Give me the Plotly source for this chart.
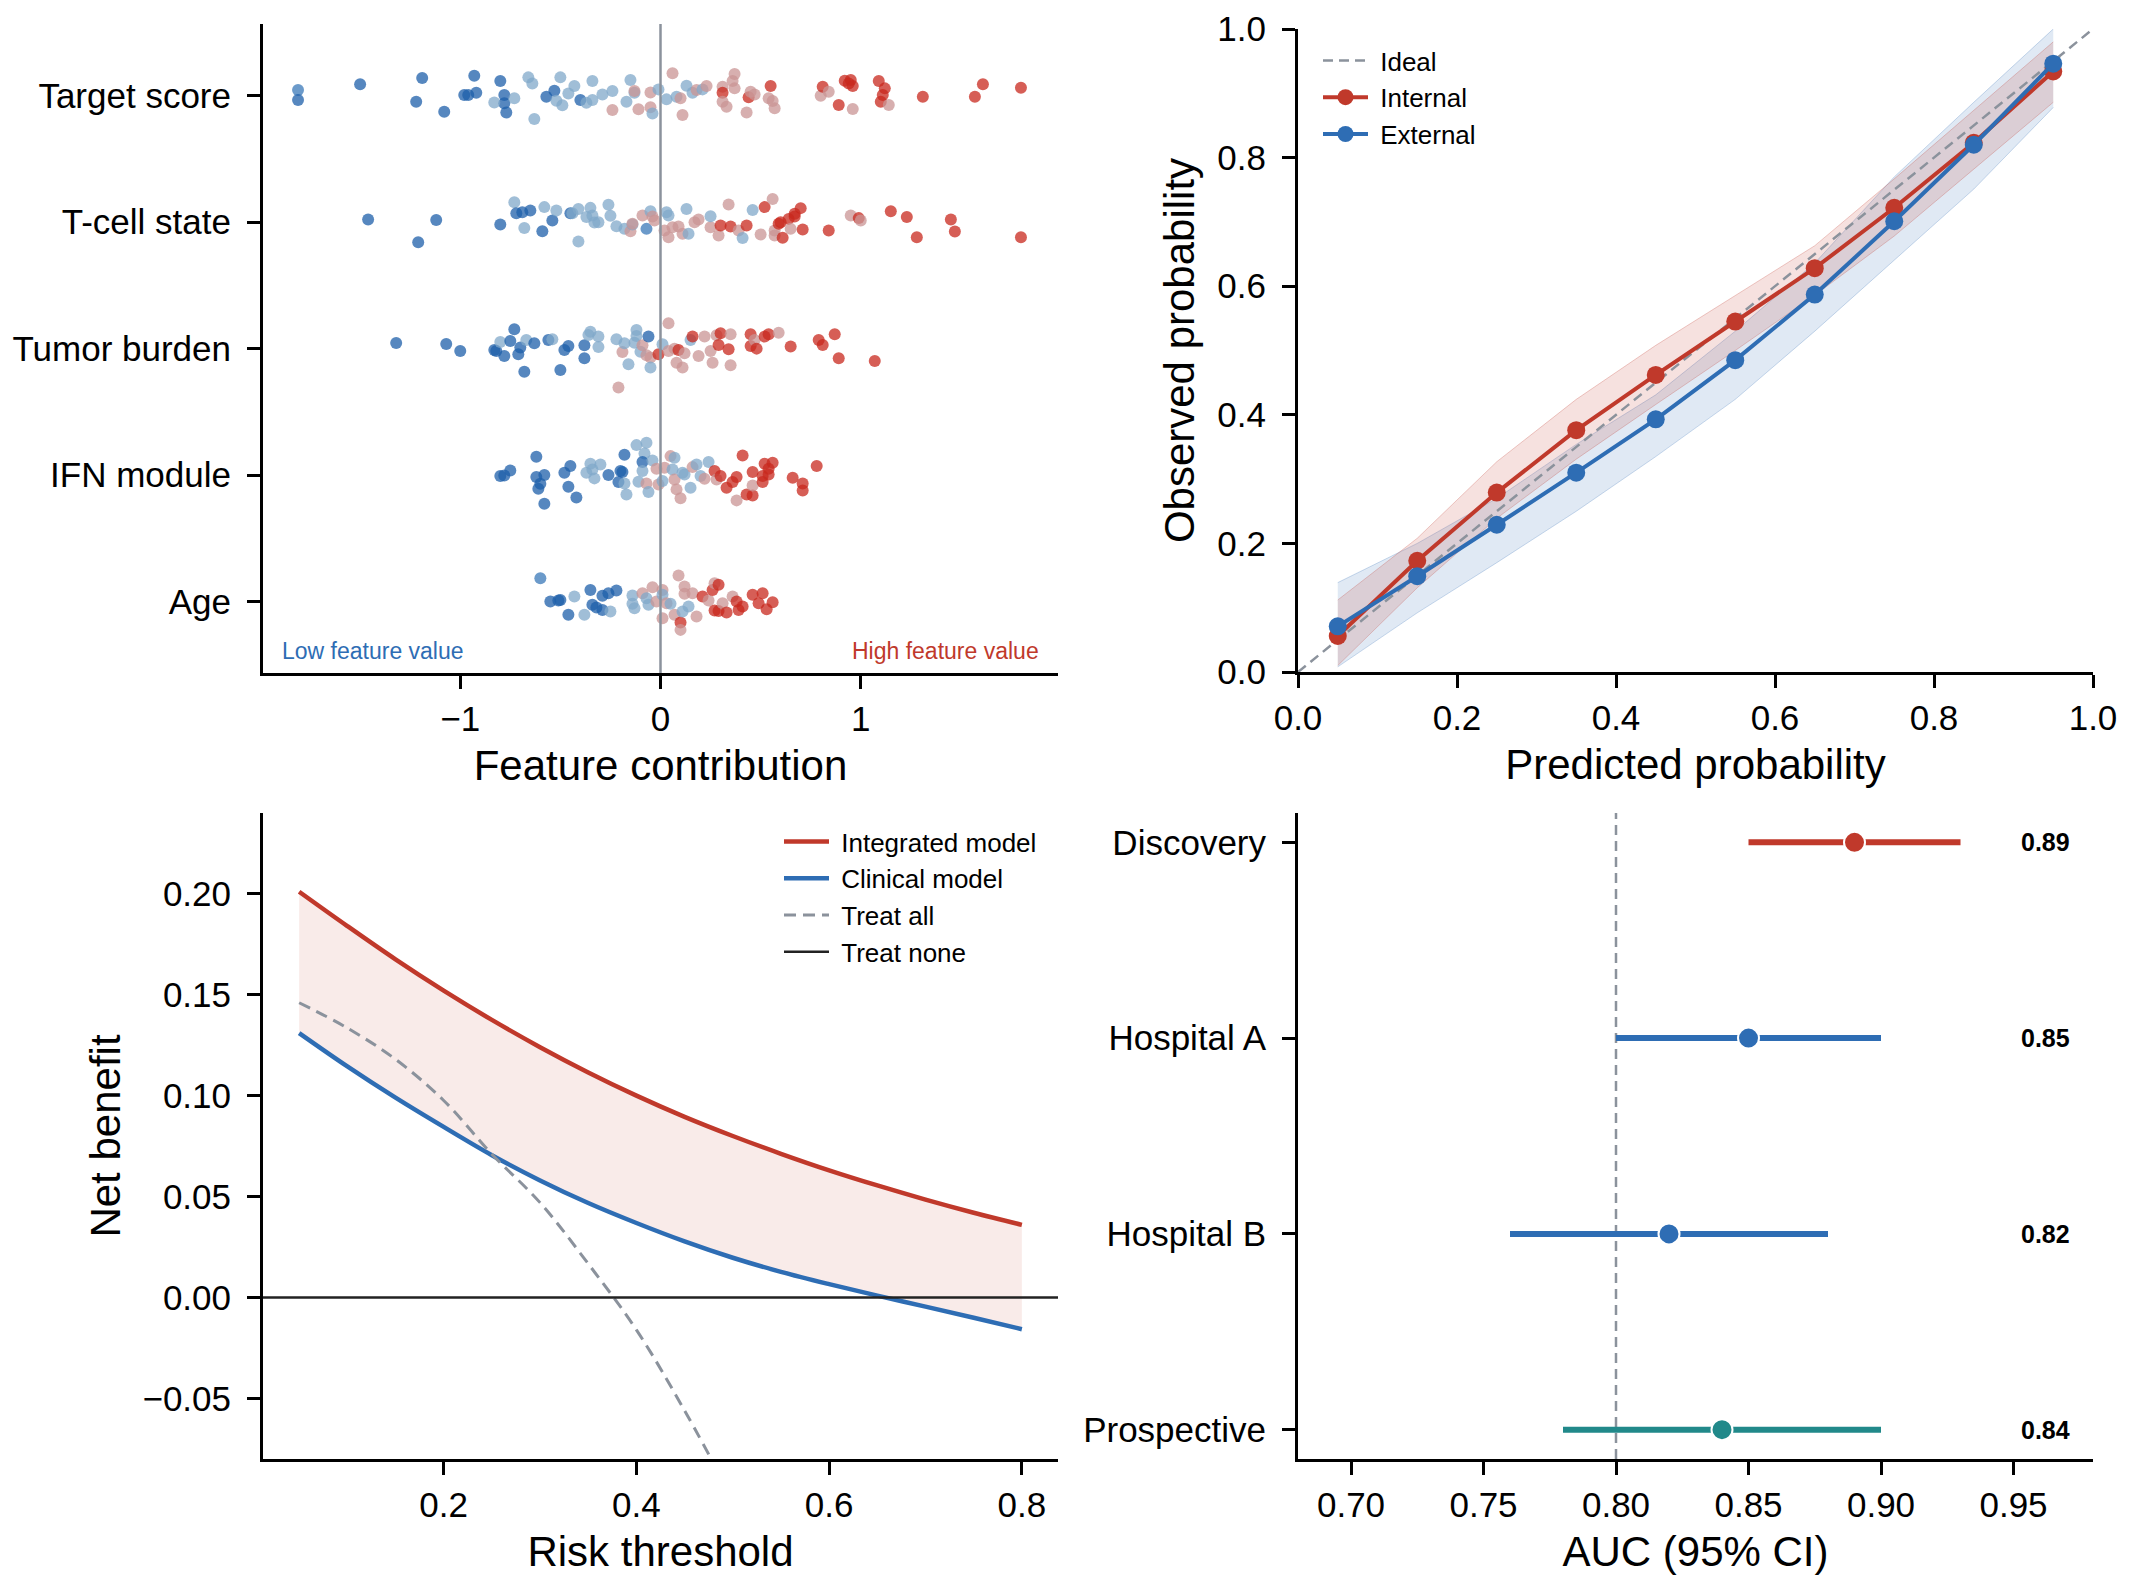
import plotly.graph_objects as go

FONT = "Liberation Sans, Arial, sans-serif"
RED = "#c0392b"
BLUE = "#2e6db4"
TEAL = "#21898a"
GREY = "#8b929c"
W, H = 2130, 1590
FW, FH = W - 16, H - 16  # page body keeps an 8 px margin
NB = "\u00a0"


def px(v):
    return (v - 8) / FW


def py(v):
    return 1 - (v - 8) / FH


# ---- panel A: feature contributions (top to bottom) ----
features = ["Target score", "T-cell state", "Tumor burden", "IFN module", "Age"]

target_x = [-1.81, -1.81, -1.50, -1.19, -1.22, -1.08, -0.93, -0.98, -0.96, -0.92, -0.80, -0.78, -0.78, -0.77,
            -0.83, -0.73, -0.66, -0.64, -0.63, -0.57, -0.53, -0.52, -0.50, -0.49, -0.46, -0.43, -0.40, -0.37,
            -0.34, -0.34, -0.29, -0.24, -0.24, -0.17, -0.15, -0.13, -0.13, -0.11, -0.05, -0.05, -0.04, -0.01,
            0.03, 0.06, 0.08, 0.10, 0.11, 0.13, 0.16, 0.18, 0.21, 0.23, 0.31, 0.31, 0.31, 0.33, 0.36, 0.37,
            0.37, 0.43, 0.44, 0.45, 0.47, 0.54, 0.55, 0.56, 0.57, 0.80, 0.81, 0.84, 0.89, 0.92, 0.95, 0.94,
            0.96, 0.96, 1.09, 1.12, 1.11, 1.10, 1.14, 1.31, 1.57, 1.61, 1.80]
target_jit = [0.045, -0.034, 0.09, 0.14, -0.047, -0.126, 0.158, 0.005, 0.005, 0.024, 0.116, 0.005, -0.06, -0.132,
              -0.053, -0.021, 0.145, 0.097, -0.184, -0.008, 0.04, -0.04, 0.145, -0.076, 0.018, 0.076, -0.034,
              -0.055, 0.116, -0.034, 0.01, 0.037, -0.113, -0.047, 0.124, 0.024, 0.037, -0.108, 0.026, -0.092,
              -0.14, 0.05, -0.029, 0.177, -0.008, -0.021, -0.153, 0.079, 0.024, 0.045, 0.05, 0.076, 0.071, 0.024,
              -0.047, -0.087, 0.116, 0.171, 0.058, -0.132, -0.013, 0.032, 0.01, -0.021, 0.076, -0.042, -0.1, 0.0,
              0.071, 0.032, -0.074, 0.119, 0.124, 0.097, 0.076, -0.105, 0.116, 0.058, 0.005, -0.047, -0.074,
              -0.008, -0.008, 0.09, 0.063]
target_val = [0.2, 0.1, 0.1, 0.1, 0.1, 0.1, 0.1, 0.1, 0.1, 0.1, 0.1, 0.1, 0.1, 0.1, 0.35, 0.35, 0.35, 0.35, 0.35,
              0.1, 0.1, 0.35, 0.35, 0.35, 0.35, 0.35, 0.1, 0.35, 0.35, 0.35, 0.35, 0.35, 0.65, 0.35, 0.35, 0.35,
              0.65, 0.65, 0.65, 0.65, 0.35, 0.35, 0.35, 0.65, 0.35, 0.65, 0.65, 0.35, 0.35, 0.65, 0.35, 0.65,
              0.65, 0.9, 0.65, 0.65, 0.65, 0.65, 0.65, 0.65, 0.9, 0.65, 0.65, 0.65, 0.9, 0.65, 0.65, 0.65, 0.9,
              0.65, 0.9, 0.9, 0.9, 0.9, 0.9, 0.65, 0.9, 0.9, 0.9, 0.9, 0.65, 0.9, 0.9, 0.9, 0.9]

tcell_x = [-1.46, -1.21, -1.12, -0.80, -0.73, -0.72, -0.69, -0.68, -0.65, -0.59, -0.58, -0.54, -0.52, -0.45, -0.44,
           -0.41, -0.41, -0.37, -0.35, -0.34, -0.33, -0.31, -0.26, -0.25, -0.22, -0.18, -0.15, -0.14, -0.14, -0.09,
           -0.07, -0.05, -0.04, -0.03, 0.02, 0.03, 0.04, 0.04, 0.06, 0.09, 0.11, 0.13, 0.14, 0.17, 0.19, 0.25,
           0.25, 0.29, 0.30, 0.34, 0.35, 0.39, 0.41, 0.43, 0.46, 0.50, 0.52, 0.56, 0.57, 0.57, 0.59, 0.60, 0.61,
           0.64, 0.65, 0.67, 0.67, 0.70, 0.71, 0.84, 0.95, 0.99, 1.00, 1.15, 1.23, 1.28, 1.45, 1.47, 1.80]
tcell_jit = [0.021, -0.158, 0.018, -0.018, 0.158, 0.071, 0.079, -0.047, 0.092, -0.071, 0.119, 0.013, 0.092, 0.071,
             0.071, 0.105, -0.153, 0.04, 0.113, 0.053, -0.003, 0.0, 0.137, 0.05, -0.032, -0.053, -0.071, -0.018,
             -0.013, 0.053, -0.053, 0.087, 0.045, 0.013, -0.066, 0.079, 0.053, -0.119, -0.04, -0.034, -0.092,
             0.105, -0.092, 0.0, 0.021, -0.04, 0.047, -0.105, -0.026, 0.14, -0.034, -0.066, -0.126, -0.026, 0.097,
             -0.097, 0.119, 0.184, -0.105, -0.066, -0.013, 0.0, -0.124, 0.026, -0.053, 0.045, 0.066, 0.111,
             -0.058, -0.066, 0.053, 0.032, 0.013, 0.087, 0.04, -0.119, 0.021, -0.074, -0.119]
tcell_val = [0.1, 0.1, 0.1, 0.1, 0.35, 0.1, 0.1, 0.35, 0.1, 0.1, 0.35, 0.1, 0.35, 0.1, 0.35, 0.35, 0.35, 0.35, 0.35,
             0.35, 0.35, 0.35, 0.35, 0.35, 0.35, 0.35, 0.65, 0.35, 0.65, 0.65, 0.2, 0.35, 0.65, 0.65, 0.65, 0.35,
             0.35, 0.65, 0.65, 0.65, 0.65, 0.35, 0.35, 0.65, 0.65, 0.65, 0.35, 0.65, 0.9, 0.65, 0.9, 0.65, 0.35,
             0.9, 0.35, 0.65, 0.9, 0.65, 0.65, 0.65, 0.9, 0.9, 0.9, 0.9, 0.65, 0.9, 0.9, 0.9, 0.9, 0.9, 0.65, 0.9,
             0.65, 0.9, 0.9, 0.9, 0.9, 0.9, 0.9]

tumor_x = [-1.32, -1.07, -1.00, -0.83, -0.82, -0.80, -0.78, -0.75, -0.73, -0.71, -0.70, -0.68, -0.67, -0.63, -0.56,
           -0.54, -0.50, -0.48, -0.46, -0.38, -0.38, -0.36, -0.35, -0.31, -0.31, -0.22, -0.21, -0.19, -0.18, -0.16,
           -0.13, -0.12, -0.12, -0.10, -0.09, -0.07, -0.06, -0.05, -0.05, -0.01, 0.01, 0.04, 0.04, 0.07, 0.08,
           0.09, 0.11, 0.12, 0.15, 0.16, 0.19, 0.22, 0.25, 0.26, 0.28, 0.29, 0.30, 0.34, 0.35, 0.35, 0.45, 0.45,
           0.47, 0.48, 0.52, 0.54, 0.59, 0.65, 0.79, 0.81, 0.87, 0.89, 1.07]
tumor_jit = [0.045, 0.037, -0.018, -0.011, -0.018, 0.053, -0.058, 0.061, 0.153, -0.045, 0.008, -0.182, 0.069, 0.042,
             0.069, 0.074, -0.169, -0.011, 0.021, 0.026, -0.076, 0.108, 0.134, 0.095, 0.013, 0.074, -0.308, -0.026,
             0.042, -0.124, 0.047, 0.148, 0.1, -0.024, 0.026, -0.053, 0.095, -0.071, -0.15, -0.045, 0.034, 0.2,
             -0.018, 0.0, -0.111, -0.011, -0.15, -0.037, 0.069, 0.095, -0.058, 0.095, -0.018, -0.111, 0.105, 0.029,
             0.121, -0.005, -0.132, 0.113, 0.113, 0.021, 0.069, 0.0, 0.095, 0.113, 0.126, 0.016, 0.069, 0.029,
             0.113, -0.076, -0.097]
tumor_val = [0.1, 0.1, 0.1, 0.1, 0.1, 0.35, 0.1, 0.1, 0.1, 0.1, 0.1, 0.1, 0.35, 0.1, 0.1, 0.35, 0.1, 0.1, 0.1, 0.1,
             0.1, 0.35, 0.35, 0.35, 0.35, 0.35, 0.65, 0.65, 0.35, 0.35, 0.35, 0.35, 0.35, 0.35, 0.65, 0.65, 0.1,
             0.65, 0.35, 0.9, 0.35, 0.65, 0.65, 0.65, 0.65, 0.9, 0.65, 0.65, 0.35, 0.9, 0.65, 0.65, 0.65, 0.65,
             0.65, 0.9, 0.9, 0.9, 0.65, 0.65, 0.9, 0.9, 0.65, 0.9, 0.9, 0.9, 0.65, 0.9, 0.9, 0.9, 0.9, 0.9, 0.9]

ifn_x = [-0.80, -0.78, -0.75, -0.62, -0.62, -0.61, -0.60, -0.58, -0.58, -0.48, -0.45, -0.46, -0.42, -0.37, -0.35,
         -0.34, -0.33, -0.30, -0.26, -0.20, -0.19, -0.21, -0.18, -0.17, -0.18, -0.12, -0.07, -0.08, -0.09, -0.09,
         -0.11, -0.07, -0.06, -0.04, -0.02, -0.01, 0.01, 0.02, 0.05, 0.07, 0.06, 0.07, 0.08, 0.10, 0.11, 0.12,
         0.15, 0.16, 0.18, 0.20, 0.22, 0.24, 0.27, 0.28, 0.30, 0.33, 0.36, 0.38, 0.38, 0.41, 0.43, 0.46, 0.46,
         0.46, 0.51, 0.51, 0.52, 0.54, 0.54, 0.56, 0.66, 0.71, 0.71, 0.78]
ifn_jit = [-0.008, -0.003, 0.037, 0.145, -0.016, -0.108, -0.069, 0.0, -0.227, 0.018, 0.071, -0.092, -0.177, 0.018,
           0.09, 0.045, -0.026, 0.084, 0.0, 0.032, 0.024, -0.055, -0.066, -0.153, 0.161, 0.237, 0.256, 0.171,
           0.103, 0.032, -0.053, -0.066, -0.134, 0.116, 0.05, -0.074, -0.047, 0.058, 0.15, 0.137, 0.045, -0.034,
           -0.113, -0.184, 0.018, 0.005, -0.1, 0.063, 0.084, -0.008, -0.029, 0.103, 0.032, -0.034, -0.008, -0.1,
           -0.055, -0.016, -0.2, 0.155, -0.153, -0.161, -0.082, 0.024, -0.008, -0.055, 0.09, 0.05, 0.005, 0.097,
           -0.021, -0.066, -0.121, 0.071]
ifn_val = [0.1, 0.1, 0.1, 0.1, 0.1, 0.1, 0.1, 0.1, 0.1, 0.1, 0.1, 0.1, 0.1, 0.35, 0.35, 0.35, 0.35, 0.35, 0.1, 0.1,
           0.1, 0.1, 0.35, 0.35, 0.1, 0.35, 0.35, 0.35, 0.1, 0.35, 0.35, 0.65, 0.35, 0.35, 0.65, 0.65, 0.35, 0.65,
           0.65, 0.35, 0.35, 0.65, 0.65, 0.65, 0.35, 0.35, 0.35, 0.65, 0.35, 0.35, 0.65, 0.35, 0.9, 0.65, 0.9,
           0.9, 0.9, 0.9, 0.65, 0.9, 0.9, 0.9, 0.65, 0.9, 0.9, 0.9, 0.9, 0.9, 0.9, 0.9, 0.9, 0.9, 0.9, 0.9]

age_x = [-0.60, -0.55, -0.50, -0.51, -0.46, -0.43, -0.38, -0.35, -0.34, -0.32, -0.29, -0.29, -0.26, -0.25, -0.22,
         -0.14, -0.14, -0.13, -0.09, -0.07, -0.06, -0.04, -0.02, 0.01, 0.01, 0.01, 0.03, 0.05, 0.09, 0.07, 0.10,
         0.10, 0.11, 0.12, 0.12, 0.14, 0.16, 0.18, 0.21, 0.24, 0.26, 0.27, 0.29, 0.27, 0.29, 0.31, 0.33, 0.36,
         0.38, 0.39, 0.41, 0.46, 0.49, 0.51, 0.53, 0.56]
age_jit = [0.184, 0.0, 0.013, 0.008, -0.105, 0.04, -0.105, 0.092, -0.026, -0.047, -0.066, 0.045, 0.066, -0.079,
           0.087, 0.047, -0.018, -0.053, 0.066, 0.026, -0.026, 0.113, 0.0, 0.092, 0.053, -0.132, -0.013, -0.018,
           0.206, -0.105, -0.166, -0.224, -0.079, 0.119, 0.061, -0.04, 0.066, -0.119, 0.04, 0.008, 0.092, 0.145,
           0.132, -0.071, -0.074, -0.013, -0.087, 0.04, 0.0, -0.066, -0.04, 0.053, -0.013, 0.066, -0.061, -0.005]
age_val = [0.2, 0.1, 0.1, 0.1, 0.1, 0.35, 0.35, 0.1, 0.1, 0.1, 0.1, 0.1, 0.1, 0.35, 0.1, 0.35, 0.35, 0.35, 0.65,
           0.35, 0.35, 0.65, 0.65, 0.65, 0.35, 0.65, 0.65, 0.35, 0.65, 0.65, 0.9, 0.65, 0.35, 0.65, 0.65, 0.35,
           0.65, 0.65, 0.9, 0.65, 0.9, 0.65, 0.9, 0.9, 0.9, 0.65, 0.9, 0.65, 0.9, 0.9, 0.9, 0.9, 0.9, 0.9, 0.9, 0.9]

# ---- panel B: calibration ----
pred_bins = [0.05, 0.15, 0.25, 0.35, 0.45, 0.55, 0.65, 0.75, 0.85, 0.95]
obs_internal = [0.056, 0.173, 0.279, 0.376, 0.462, 0.545, 0.628, 0.722, 0.823, 0.934]
obs_external = [0.071, 0.149, 0.229, 0.310, 0.393, 0.485, 0.587, 0.701, 0.820, 0.946]
internal_lo = [0.010, 0.131, 0.239, 0.331, 0.416, 0.500, 0.586, 0.678, 0.782, 0.886]
internal_hi = [0.112, 0.208, 0.327, 0.424, 0.508, 0.586, 0.663, 0.767, 0.874, 0.980]
external_lo = [0.008, 0.092, 0.170, 0.250, 0.335, 0.424, 0.530, 0.640, 0.751, 0.878]
external_hi = [0.139, 0.200, 0.270, 0.354, 0.431, 0.530, 0.636, 0.770, 0.886, 1.000]
prob_ticks = [0.0, 0.2, 0.4, 0.6, 0.8, 1.0]

# ---- panel C: decision curve ----
thresholds = [0.05, 0.10, 0.15, 0.20, 0.25, 0.30, 0.35, 0.40, 0.45, 0.50, 0.55, 0.60, 0.65, 0.70, 0.75, 0.80]
nb_integrated = [0.201, 0.184, 0.1675, 0.152, 0.1375, 0.124, 0.1115, 0.100, 0.0895, 0.080, 0.0712, 0.063, 0.0555,
                 0.0485, 0.042, 0.036]
nb_clinical = [0.131, 0.1145, 0.099, 0.0845, 0.0705, 0.058, 0.0468, 0.0369, 0.0278, 0.0197, 0.0127, 0.0066,
               0.0009, -0.0045, -0.010, -0.0157]
treat_all_thr = [0.05, 0.10, 0.15, 0.20, 0.25, 0.30, 0.35, 0.40, 0.45, 0.50]
nb_treat_all = [0.146, 0.1335, 0.118, 0.0976, 0.071, 0.047, 0.0167, -0.016, -0.056, -0.100]

# ---- panel D: AUC forest ----
cohorts = ["Discovery", "Hospital A", "Hospital B", "Prospective"]
auc = [0.89, 0.85, 0.82, 0.84]
auc_lo = [0.85, 0.80, 0.76, 0.78]
auc_hi = [0.93, 0.90, 0.88, 0.90]
cohort_colors = [RED, BLUE, BLUE, TEAL]

fig = go.Figure()

feat_scale = [[0, "#1d5fa9"], [0.1, "#1d5fa9"], [0.2, "#3a78b8"], [0.35, "#80a8ca"],
              [0.65, "#ca9494"], [0.9, "#c8281e"], [1, "#c8281e"]]
rows = [(target_x, target_jit, target_val), (tcell_x, tcell_jit, tcell_val), (tumor_x, tumor_jit, tumor_val),
        (ifn_x, ifn_jit, ifn_val), (age_x, age_jit, age_val)]
for i, (xs, js, vs) in enumerate(rows):
    base = len(features) - 1 - i
    fig.add_trace(go.Scatter(
        x=xs, y=[base + j for j in js], mode="markers", showlegend=False, hoverinfo="skip",
        marker=dict(size=12, color=vs, colorscale=feat_scale, cmin=0, cmax=1, opacity=0.75, line=dict(width=0)),
        xaxis="x", yaxis="y"))

# calibration bands
for lo, hi, fillc in [(external_lo, external_hi, "rgba(46,109,180,0.15)"),
                      (internal_lo, internal_hi, "rgba(192,57,43,0.15)")]:
    edge = fillc.replace("0.15", "0.25")
    fig.add_trace(go.Scatter(x=pred_bins, y=lo, mode="lines", line=dict(color=edge, width=1),
                             showlegend=False, hoverinfo="skip", xaxis="x2", yaxis="y2"))
    fig.add_trace(go.Scatter(x=pred_bins, y=hi, mode="lines", line=dict(color=edge, width=1), fill="tonexty",
                             fillcolor=fillc, showlegend=False, hoverinfo="skip", xaxis="x2", yaxis="y2"))
fig.add_trace(go.Scatter(x=[0, 1], y=[0, 1], mode="lines", name=NB + "Ideal",
                         line=dict(color=GREY, width=2.5, dash="10px,6px"), xaxis="x2", yaxis="y2", legend="legend"))
fig.add_trace(go.Scatter(x=pred_bins, y=obs_internal, mode="lines+markers", name=NB + "Internal",
                         line=dict(color=RED, width=4), marker=dict(size=18, color=RED),
                         xaxis="x2", yaxis="y2", legend="legend"))
fig.add_trace(go.Scatter(x=pred_bins, y=obs_external, mode="lines+markers", name=NB + "External",
                         line=dict(color=BLUE, width=4), marker=dict(size=18, color=BLUE),
                         xaxis="x2", yaxis="y2", legend="legend"))

# decision curves
fig.add_trace(go.Scatter(x=thresholds, y=nb_clinical, mode="lines", line=dict(width=0, shape="spline"),
                         showlegend=False, hoverinfo="skip", xaxis="x3", yaxis="y3"))
fig.add_trace(go.Scatter(x=thresholds, y=nb_integrated, mode="lines", line=dict(width=0, shape="spline"),
                         fill="tonexty", fillcolor="rgba(192,57,43,0.10)", showlegend=False, hoverinfo="skip",
                         xaxis="x3", yaxis="y3"))
fig.add_trace(go.Scatter(x=thresholds, y=nb_integrated, mode="lines", name=NB + "Integrated model",
                         line=dict(color=RED, width=4.5, shape="spline"), xaxis="x3", yaxis="y3", legend="legend2"))
fig.add_trace(go.Scatter(x=thresholds, y=nb_clinical, mode="lines", name=NB + "Clinical model",
                         line=dict(color=BLUE, width=4.5, shape="spline"), xaxis="x3", yaxis="y3", legend="legend2"))
fig.add_trace(go.Scatter(x=treat_all_thr, y=nb_treat_all, mode="lines", name=NB + "Treat all",
                         line=dict(color=GREY, width=3, dash="12px,7px", shape="spline"),
                         xaxis="x3", yaxis="y3", legend="legend2"))
fig.add_trace(go.Scatter(x=[None], y=[None], mode="lines", name=NB + "Treat none",
                         line=dict(color="#222222", width=2.5), xaxis="x3", yaxis="y3", legend="legend2"))

# forest
ypos = [len(cohorts) - 1 - i for i in range(len(cohorts))]
for i in range(len(cohorts)):
    fig.add_trace(go.Scatter(x=[auc_lo[i], auc_hi[i]], y=[ypos[i], ypos[i]], mode="lines",
                             line=dict(color=cohort_colors[i], width=6), showlegend=False,
                             xaxis="x4", yaxis="y4"))
fig.add_trace(go.Scatter(x=auc, y=ypos, mode="markers", showlegend=False,
                         marker=dict(size=21, color=cohort_colors, line=dict(color="white", width=2)),
                         xaxis="x4", yaxis="y4"))

axis = dict(showline=True, linecolor="black", linewidth=3, ticks="outside", ticklen=13, tickwidth=3,
            tickcolor="black", showgrid=False, zeroline=False, automargin=False, ticklabeloverflow="allow",
            tickfont=dict(size=35, color="black", family=FONT),
            title_font=dict(size=42, color="black", family=FONT))
yaxis_extra = dict(ticklabelstandoff=9)

xl = [px(263), px(1058)]
xr = [px(1298), px(2093)]
yt = [py(673), py(24)]
yb = [py(1459), py(813)]

legend_style = dict(xanchor="left", yanchor="top", bgcolor="rgba(0,0,0,0)", traceorder="normal",
                    itemwidth=45, font=dict(size=26, family=FONT, color="black"))

fig.update_layout(
    template="none",
    width=FW, height=FH, margin=dict(l=0, r=0, t=0, b=0),
    paper_bgcolor="white", plot_bgcolor="white",
    font=dict(family=FONT, color="black"),
    xaxis=dict(axis, domain=xl, anchor="y", range=[-1.985, 1.985], tickvals=[-1, 0, 1],
               title=dict(text="Feature contribution", standoff=14)),
    yaxis=dict(axis, **yaxis_extra, domain=yt, anchor="x", range=[-0.565, 4.567],
               tickvals=[len(features) - 1 - i for i in range(len(features))], ticktext=features),
    xaxis2=dict(axis, domain=xr, anchor="y2", range=[0, 1], tickvals=prob_ticks, tickformat=".1f",
                title=dict(text="Predicted probability", standoff=14)),
    yaxis2=dict(axis, **yaxis_extra, domain=[py(672), py(29)], anchor="x2", range=[0, 1], tickvals=prob_ticks,
                tickformat=".1f", title=dict(text="Observed probability", standoff=10)),
    xaxis3=dict(axis, domain=xl, anchor="y3", range=[0.0125, 0.8375], dtick=0.2, tickformat=".1f",
                title=dict(text="Risk threshold", standoff=14)),
    yaxis3=dict(axis, **yaxis_extra, domain=yb, anchor="x3", range=[-0.08, 0.24], dtick=0.05, tickformat=".2f",
                title=dict(text="Net benefit", standoff=9)),
    xaxis4=dict(axis, domain=xr, anchor="y4", range=[0.68, 0.98], dtick=0.05, tickformat=".2f",
                title=dict(text="AUC (95% CI)", standoff=14)),
    yaxis4=dict(axis, **yaxis_extra, domain=yb, anchor="x4", range=[-0.15, 3.15], tickvals=ypos,
                ticktext=cohorts),
    legend=dict(legend_style, x=px(1318), y=py(37)),
    legend2=dict(legend_style, x=px(779), y=py(818)),
    shapes=[
        dict(type="line", xref="x", yref="y domain", x0=0, x1=0, y0=0, y1=1,
             line=dict(color=GREY, width=2.5), layer="above"),
        dict(type="line", xref="x3 domain", yref="y3", x0=0, x1=1, y0=0, y1=0,
             line=dict(color="#222222", width=2.5), layer="above"),
        dict(type="line", xref="x4", yref="y4 domain", x0=0.8, x1=0.8, y0=0, y1=1,
             line=dict(color=GREY, width=2.5, dash="10px,6px"), layer="below"),
    ],
    annotations=[
        dict(text="Low feature value", xref="paper", yref="paper", x=px(280), y=py(651),
             xanchor="left", yanchor="middle", showarrow=False, font=dict(size=23, color=BLUE, family=FONT)),
        dict(text="High feature value", xref="paper", yref="paper", x=px(1041), y=py(651),
             xanchor="right", yanchor="middle", showarrow=False, font=dict(size=23, color=RED, family=FONT)),
    ] + [
        dict(text="<b>%.2f</b>" % a, xref="x4", yref="y4", x=0.952, y=yp, xanchor="left", yanchor="middle",
             showarrow=False, font=dict(size=25, color="black", family=FONT))
        for a, yp in zip(auc, ypos)
    ],
)

fig.write_html("out.html")
